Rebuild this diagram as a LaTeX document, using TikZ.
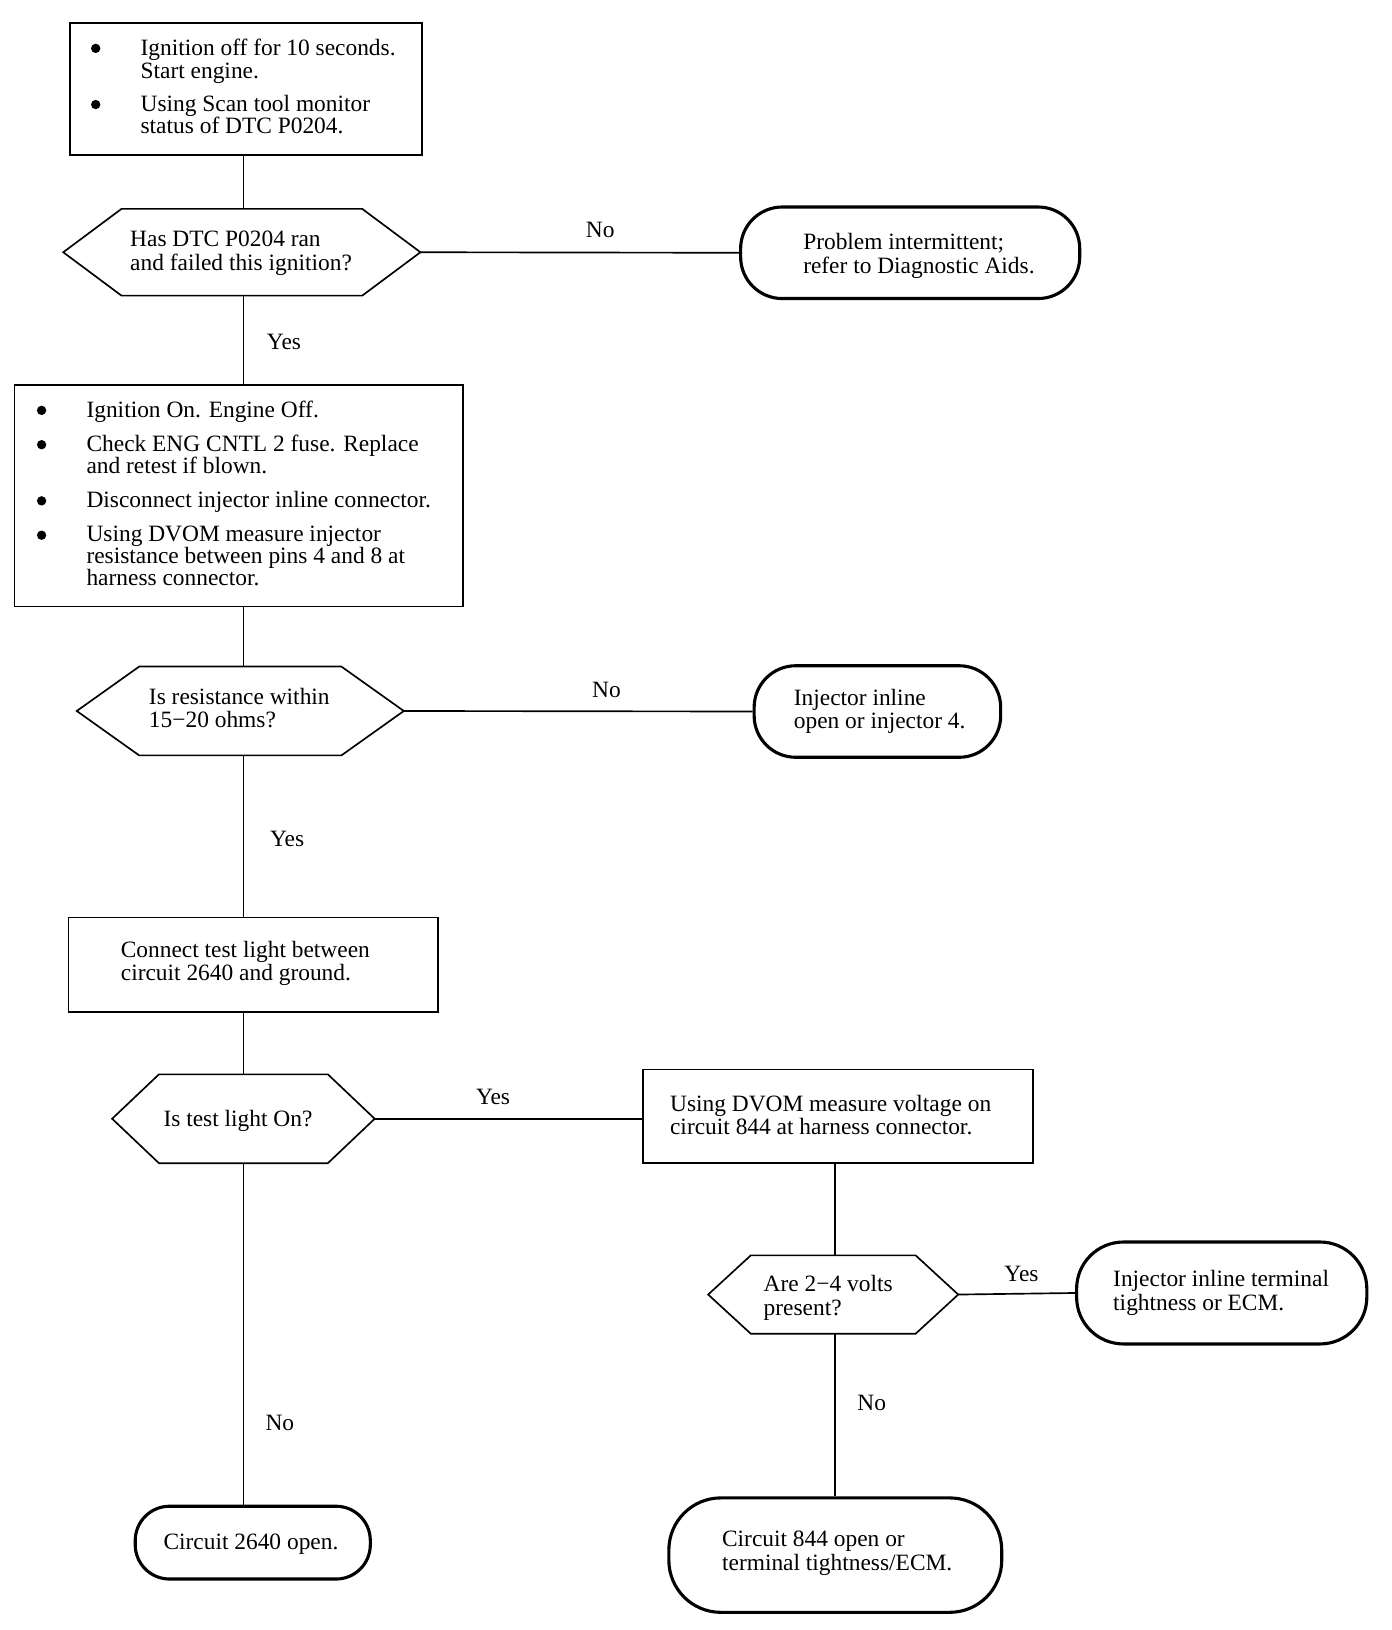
\documentclass[tikz,border=0pt]{standalone}
\usepackage{fontspec}
\setmainfont{Liberation Serif}
\begin{document}
\begin{tikzpicture}[x=1pt,y=-1pt,
  every node/.style={font=\fontsize{22.5pt}{21.5pt}\selectfont},
  box/.style={draw, line width=1.6pt, inner sep=0pt},
  oval/.style={draw, line width=3pt, inner sep=0pt},
  hexn/.style={inner sep=0pt},
  conn/.style={line width=1.6pt},
  txt/.style={anchor=base west, inner sep=0pt},
  lab/.style={anchor=base, inner sep=0pt}]
\newcommand\hexpath[2]{\draw[conn] (#1.west) -- ([xshift=#2]#1.north west) -- ([xshift=-#2]#1.north east) -- (#1.east) -- ([xshift=-#2]#1.south east) -- ([xshift=#2]#1.south west) -- cycle;}

\useasboundingbox (0,0) rectangle (1338,1567);

% shapes
\node[box, minimum width=339pt, minimum height=127pt] (b1) at (236.5,85.5) {};
\node[box, minimum width=431pt, minimum height=213pt] (b2) at (229.5,476.5) {};
\node[box, minimum width=355pt, minimum height=91pt] (b3) at (243.5,927.5) {};
\node[box, minimum width=375pt, minimum height=90pt] (b4) at (805.5,1073) {};

\node[oval, rounded corners=40pt, minimum width=326pt, minimum height=88pt] (o1) at (875,243) {};
\node[oval, rounded corners=40pt, minimum width=237pt, minimum height=88pt] (o2) at (843.5,684) {};
\node[oval, rounded corners=33pt, minimum width=226pt, minimum height=70pt] (o3) at (243,1483) {};
\node[oval, rounded corners=45pt, minimum width=279pt, minimum height=98pt] (o4) at (1174.5,1243) {};
\node[oval, rounded corners=50pt, minimum width=320pt, minimum height=110pt] (o5) at (803,1495) {};

\node[hexn, minimum width=343pt, minimum height=83pt] (h1) at (232.5,242.5) {};
\node[hexn, minimum width=314pt, minimum height=85pt] (h2) at (231,683.5) {};
\node[hexn, minimum width=252pt, minimum height=85pt] (h3) at (234,1075.5) {};
\node[hexn, minimum width=240pt, minimum height=75pt] (h4) at (801,1244.5) {};
\hexpath{h1}{56pt}
\hexpath{h2}{60pt}
\hexpath{h3}{45pt}
\hexpath{h4}{41pt}

\coordinate (col) at (234,0);
\coordinate (col2) at (803,0);

% connectors
\draw[conn] (b1.south -| col) -- (h1.north -| col);
\draw[conn] (h1.south -| col) -- (b2.north -| col);
\draw[conn] (b2.south -| col) -- (h2.north -| col);
\draw[conn] (h2.south -| col) -- (b3.north -| col);
\draw[conn] (b3.south -| col) -- (h3.north -| col);
\draw[conn] (h3.south -| col) -- (o3.north -| col);
\draw[conn] (h1.east) -- (o1.west);
\draw[conn] (h2.east) -- (o2.west);
\draw[conn] (h3.east) -- (h3.east -| b4.west);
\draw[conn] (b4.south -| col2) -- (h4.north -| col2);
\draw[conn] (h4.east) -- (o4.west);
\draw[conn] (h4.south -| col2) -- (o5.north -| col2);

% labels
\node[lab] (l1) at (577,228) {No};
\node[lab] (l2) at (273,336) {Yes};
\node[lab] (l3) at (583,671) {No};
\node[lab] (l4) at (276,814) {Yes};
\node[lab] (l5) at (474,1062) {Yes};
\node[lab] (l6) at (982,1232) {Yes};
\node[lab] (l7) at (269,1375) {No};
\node[lab] (l8) at (838,1356) {No};

% box 1 text
\fill (92,46.5) circle (4.5pt);
\fill (92,100.5) circle (4.5pt);
\node[txt] (t1a) at (135,53) {Ignition off for 10 seconds.};
\node[txt] (t1b) at (135,75) {Start engine.};
\node[txt] (t1c) at (135,107) {Using Scan tool monitor};
\node[txt] (t1d) at (135,128) {status of DTC P0204.};

% hex 1 text
\node[txt] (th1a) at (125,237) {Has DTC P0204 ran};
\node[txt] (th1b) at (125,260) {and failed this ignition?};

% oval 1 text
\node[txt] (to1a) at (772,240) {Problem intermittent;};
\node[txt] (to1b) at (772,263) {refer to Diagnostic Aids.};

% box 2 text
\fill (40,394.5) circle (4.5pt);
\fill (40,427.5) circle (4.5pt);
\fill (40,481.5) circle (4.5pt);
\fill (40,514.5) circle (4.5pt);
\node[txt] (t2a) at (83,401) {Ignition On. Engine Off.};
\node[txt] (t2b) at (83,434) {Check ENG CNTL 2 fuse. Replace};
\node[txt] (t2c) at (83,455) {and retest if blown.};
\node[txt] (t2d) at (83,488) {Disconnect injector inline connector.};
\node[txt] (t2e) at (83,521) {Using DVOM measure injector};
\node[txt] (t2f) at (83,542) {resistance between pins 4 and 8 at};
\node[txt] (t2g) at (83,563) {harness connector.};

% hex 2 text
\node[txt] (th2a) at (143,677) {Is resistance within};
\node[txt] (th2b) at (143,699) {15−20 ohms?};

% oval 2 text
\node[txt] (to2a) at (763,678) {Injector inline};
\node[txt] (to2b) at (763,700) {open or injector 4.};

% box 3 text
\node[txt] (t3a) at (116,920) {Connect test light between};
\node[txt] (t3b) at (116,943) {circuit 2640 and ground.};

% hex 3 text
\node[txt] (th3a) at (157,1083) {Is test light On?};

% box 4 text
\node[txt] (t4a) at (644,1069) {Using DVOM measure voltage on};
\node[txt] (t4b) at (644,1091) {circuit 844 at harness connector.};

% hex 4 text
\node[txt] (th4a) at (734,1242) {Are 2−4 volts};
\node[txt] (th4b) at (734,1265) {present?};

% oval 4 text
\node[txt] (to4a) at (1070,1237) {Injector inline terminal};
\node[txt] (to4b) at (1070,1260) {tightness or ECM.};

% oval 3 text
\node[txt] (to3a) at (157,1490) {Circuit 2640 open.};

% oval 5 text
\node[txt] (to5a) at (694,1487) {Circuit 844 open or};
\node[txt] (to5b) at (694,1510) {terminal tightness/ECM.};
\end{tikzpicture}
\end{document}
